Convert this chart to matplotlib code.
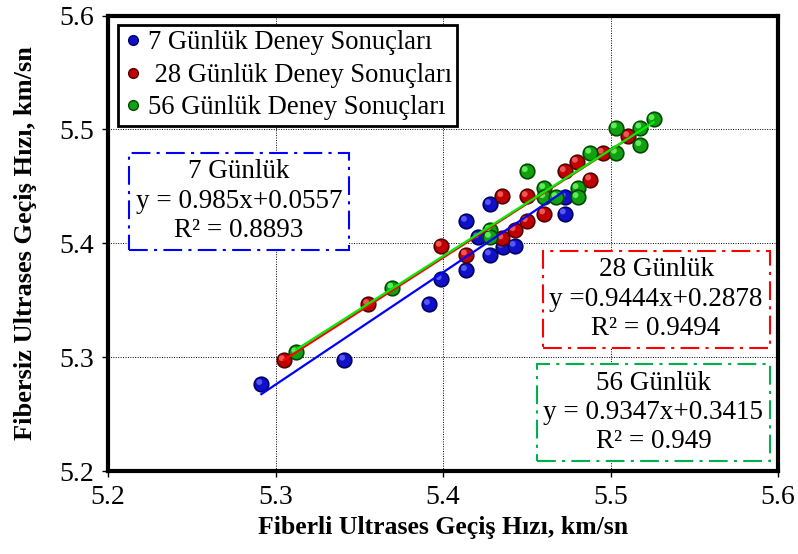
import numpy as np
import matplotlib
matplotlib.use("Agg")
import matplotlib.pyplot as plt
from matplotlib.lines import Line2D
from matplotlib.transforms import ScaledTranslation

plt.rcParams['font.family'] = ['Liberation Serif', 'DejaVu Serif']

# 7 day results
x7 = np.array([5.2915, 5.341, 5.3916, 5.3986, 5.4137, 5.4137, 5.4209, 5.428, 5.428,
               5.4356, 5.4428, 5.4727, 5.4727])
y7 = np.array([5.2766, 5.298, 5.3468, 5.3687, 5.3766, 5.4198, 5.4053, 5.4345, 5.3903,
               5.397, 5.3979, 5.4406, 5.4263])
# 28 day results
x28 = np.array([5.3049, 5.3553, 5.3986, 5.4137, 5.4354, 5.45, 5.4354, 5.4428, 5.45,
                5.4604, 5.4727, 5.4799, 5.4879, 5.4953, 5.5106])
y28 = np.array([5.2976, 5.3468, 5.3979, 5.3903, 5.4415, 5.4415, 5.4044, 5.4117, 5.4196,
                5.4263, 5.4634, 5.4716, 5.4561, 5.4795, 5.4941])
# 56 day results
x56 = np.array([5.3124, 5.3697, 5.428, 5.428, 5.45, 5.4604, 5.4604, 5.4677, 5.4803,
                5.4803, 5.4879, 5.5032, 5.5032, 5.5178, 5.5178, 5.5257])
y56 = np.array([5.3044, 5.3612, 5.4117, 5.4058, 5.4634, 5.4485, 5.4406, 5.4406, 5.4485,
                5.4406, 5.4795, 5.4795, 5.5017, 5.5017, 5.4862, 5.509])

# trend lines (slope, intercept)
fit7 = (0.985, 0.0557)
fit28 = (0.9444, 0.2878)
fit56 = (0.9347, 0.3415)

ticks = [5.2, 5.3, 5.4, 5.5, 5.6]

fig = plt.figure(figsize=(7.98, 5.54), dpi=100)
ax = fig.add_axes([0.1355, 0.149, 0.8395, 0.823])

series = [
    (x7, y7, '#1010c8', '#000060', '#6a6aff'),
    (x28, y28, '#c00000', '#500000', '#ff6a6a'),
    (x56, y56, '#10a010', '#004800', '#70ff70'),
]
hl = ScaledTranslation(-1.5 / 72, 1.5 / 72, fig.dpi_scale_trans)
for i, (xs, ys, fc, ec, hc) in enumerate(series):
    ax.scatter(xs, ys, s=110, c=fc, edgecolors=ec, linewidths=1.2, zorder=3 + i)
    ax.scatter(xs, ys, s=18, c=hc, edgecolors='none', alpha=0.8, zorder=3 + i,
               transform=ax.transData + hl)

# fitted lines
for xs, (a, b), col in [(x7, fit7, '#0000ff'), (x28, fit28, '#ff0000'), (x56, fit56, '#00ee00')]:
    xx = np.array([xs.min(), xs.max()])
    ax.plot(xx, a * xx + b, color=col, lw=1.6, zorder=6)

ax.set_xlim(5.2, 5.6)
ax.set_ylim(5.2, 5.6)
ax.set_xticks(ticks)
ax.set_yticks(ticks)
ax.set_xticklabels([f'{t:.1f}' for t in ticks])
ax.set_yticklabels([f'{t:.1f}' for t in ticks])
ax.tick_params(labelsize=20, direction='out', length=4, width=1, pad=6)
ax.grid(True, color='black', ls=(0, (1, 1.5)), lw=0.7)
for sp in ax.spines.values():
    sp.set_linewidth(3)

ax.set_xlabel('Fiberli Ultrases Geçiş Hızı, km/sn', fontsize=18.5, fontweight='bold', labelpad=4)
ax.set_ylabel('Fibersiz Ultrases Geçiş Hızı, km/sn', fontsize=19, fontweight='bold', labelpad=16)

handles = [
    Line2D([], [], ls='none', marker='o', ms=7, mfc='#1010c8', mec='#000060'),
    Line2D([], [], ls='none', marker='o', ms=7, mfc='#c00000', mec='#500000'),
    Line2D([], [], ls='none', marker='o', ms=7, mfc='#10a010', mec='#004800'),
]
labels = ['7 Günlük Deney Sonuçları', ' 28 Günlük Deney Sonuçları', '56 Günlük Deney Sonuçları']
leg = ax.legend(handles, labels, loc='upper left', bbox_to_anchor=(0.015, 0.979),
                fontsize=19.2, frameon=True, fancybox=False, edgecolor='black',
                framealpha=1, handletextpad=0.2, handlelength=0.7, borderpad=0.2,
                labelspacing=0.28, borderaxespad=0)
leg.get_frame().set_linewidth(2)

dashdot = (0, (9, 3, 1.5, 3))
boxes = [
    (0.1955, 0.593, '7 Günlük\ny = 0.985x+0.0557\nR² = 0.8893', '#0000ff'),
    (0.818, 0.378, '28 Günlük\ny =0.9444x+0.2878\nR² = 0.9494', '#ff0000'),
    (0.814, 0.130, '56 Günlük\ny = 0.9347x+0.3415\nR² = 0.949', '#00b04c'),
]
for bx, by, txt, col in boxes:
    ax.text(bx, by, txt, transform=ax.transAxes, ha='center', va='center', fontsize=19.5,
            linespacing=1.22, zorder=8,
            bbox=dict(boxstyle='square,pad=0.25', fc='white', ec=col, lw=1.5, ls=dashdot))

fig.savefig('out.png', dpi=100)
